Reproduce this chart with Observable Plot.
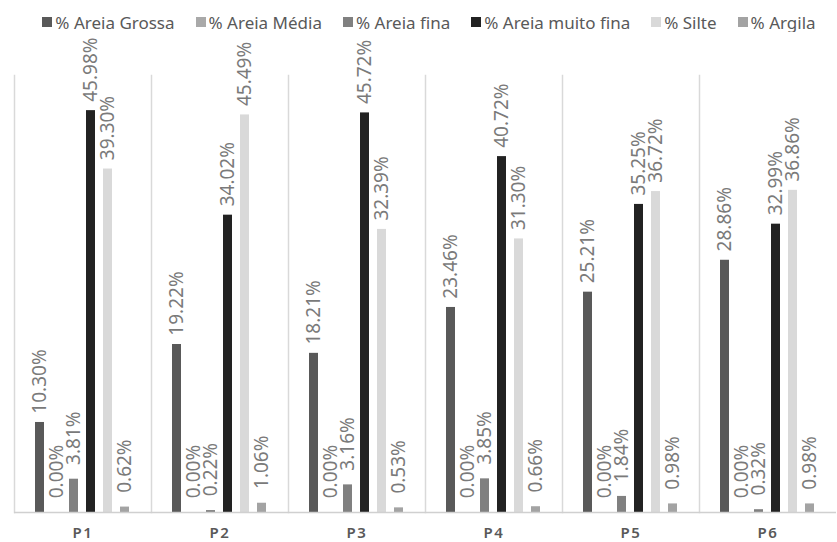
<!DOCTYPE html>
<html>
<head>
<meta charset="utf-8">
<script src="https://cdn.jsdelivr.net/npm/d3@7"></script>
<script src="https://cdn.jsdelivr.net/npm/@observablehq/plot@0.6"></script>
<style>
  html, body { margin: 0; padding: 0; background: #fff; }
  #chart { width: 837px; font-family: "Noto Sans", sans-serif; }
  #legend { height: 32px; padding: 12px 0 0 42px; box-sizing: border-box; overflow: hidden; }
  #legend .lg-swatches-wrap { display: flex; justify-content: center; align-items: center;
    min-height: 20px; height: 20px; margin: 0; flex-wrap: nowrap; }
  #legend .lg-swatches { margin: 0; }
  #legend .lg-swatch { margin-right: 21px; font-size: 17px; color: #595959; }
  #legend .lg-swatch > svg { margin-right: 3px; }
</style>
</head>
<body>
<div id="chart"><div id="legend"></div><div id="plot"></div></div>
<script>
// Sampling points
const sites = ["P1", "P2", "P3", "P4", "P5", "P6"];

// Grain-size fractions
const fractions = ["% Areia Grossa", "% Areia Média", "% Areia fina", "% Areia muito fina", "% Silte", "% Argila"];

// Percentage of each fraction at each point (rows follow `sites`)
const areiaGrossa    = [10.30, 19.22, 18.21, 23.46, 25.21, 28.86];
const areiaMedia     = [0.00, 0.00, 0.00, 0.00, 0.00, 0.00];
const areiaFina      = [3.81, 0.22, 3.16, 3.85, 1.84, 0.32];
const areiaMuitoFina = [45.98, 34.02, 45.72, 40.72, 35.25, 32.99];
const silte          = [39.30, 45.49, 32.39, 31.30, 36.72, 36.86];
const argila         = [0.62, 1.06, 0.53, 0.66, 0.98, 0.98];

const colors = ["#595959", "#a9a9a9", "#808080", "#222222", "#d9d9d9", "#a3a3a3"];

const series = [areiaGrossa, areiaMedia, areiaFina, areiaMuitoFina, silte, argila];
const data = sites.flatMap((site, i) =>
  fractions.map((comp, j) => ({site, comp, value: series[j][i]}))
);

const fmt = v => v.toFixed(2) + "%";

const legend = Plot.legend({
  color: {domain: fractions, range: colors},
  legend: "swatches",
  swatchSize: 10,
  className: "lg"
});
document.getElementById("legend").append(legend);

const chart = Plot.plot({
  width: 837,
  height: 510,
  marginTop: 43,
  marginBottom: 30,
  marginLeft: 12,
  marginRight: 0,
  style: {fontFamily: "'Noto Sans', sans-serif", background: "#fff", overflow: "visible"},
  fx: {domain: sites, padding: 0, label: null, tickSize: 0, tickPadding: 15, axis: "bottom"},
  x: {domain: fractions, paddingInner: 0.46, paddingOuter: 1.13, axis: null},
  y: {domain: [0, 50], axis: null},
  color: {domain: fractions, range: colors},
  marks: [
    Plot.frame({anchor: "left", stroke: "#d9d9d9", strokeWidth: 1.5}),
    Plot.barY(data, {fx: "site", x: "comp", y: "value", fill: "comp"}),
    Plot.ruleY([0], {stroke: "#d0d0d0", strokeWidth: 1.5}),
    Plot.text(data, {
      fx: "site", x: "comp", y: "value",
      text: d => fmt(d.value),
      rotate: -90, textAnchor: "middle", dy: -41,
      fill: "#7a7a7a", fontSize: 19
    })
  ]
});
chart.querySelectorAll("g[aria-label='fx-axis tick label'] text").forEach(t => {
  t.style.fontWeight = "600";
  t.style.letterSpacing = "1.5px";
});
const ax = chart.querySelector("g[aria-label='fx-axis tick label']");
if (ax) { ax.setAttribute("font-size", "15"); ax.setAttribute("fill", "#595959"); }
document.getElementById("plot").append(chart);
</script>
</body>
</html>
